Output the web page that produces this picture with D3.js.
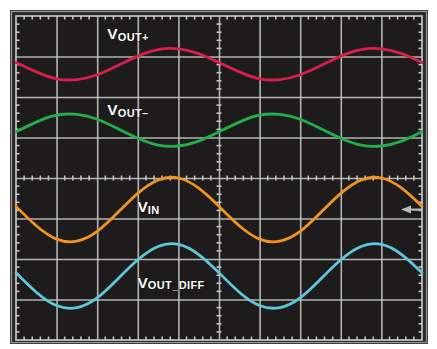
<!DOCTYPE html>
<html>
<head>
<meta charset="utf-8">
<script src="https://cdn.jsdelivr.net/npm/d3@7"></script>
<style>
  html, body { margin: 0; padding: 0; background: #ffffff; }
  svg { display: block; }
  text { font-family: "Liberation Sans", Arial, sans-serif; font-weight: bold; fill: #ffffff; }
</style>
</head>
<body>
<svg id="scope" width="437" height="349"></svg>
<script>
// Horizontal position of each sample, in screen divisions (10 across)
const divX = [0, 0.5, 1, 1.5, 2, 2.5, 3, 3.5, 4, 4.5, 5, 5.5, 6, 6.5, 7, 7.5, 8, 8.5, 9, 9.5, 10];

// Trace levels, in divisions above screen centre (8 divisions tall, -4..4)
const voutPlus = [2.85, 2.62, 2.45, 2.43, 2.55, 2.77, 3.01, 3.17, 3.19, 3.07, 2.85,
                  2.62, 2.45, 2.43, 2.55, 2.77, 3.01, 3.17, 3.19, 3.07, 2.85];
const voutMinus = [1.14, 1.38, 1.55, 1.57, 1.45, 1.22, 0.98, 0.81, 0.79, 0.91, 1.14,
                   1.38, 1.55, 1.57, 1.45, 1.22, 0.98, 0.81, 0.79, 0.91, 1.14];
const vin = [-0.70, -1.18, -1.51, -1.56, -1.32, -0.86, -0.38, -0.05, 0.00, -0.25, -0.70,
             -1.18, -1.51, -1.56, -1.32, -0.86, -0.38, -0.05, 0.00, -0.25, -0.70];
const voutDiff = [-2.34, -2.82, -3.15, -3.20, -2.96, -2.50, -2.02, -1.69, -1.64, -1.89, -2.34,
                  -2.82, -3.15, -3.20, -2.96, -2.50, -2.02, -1.69, -1.64, -1.89, -2.34];

// Trace labels: main letter and subscript
const traceNames = ["V", "V", "V", "V"];
const traceSubs = ["OUT+", "OUT\u2013", "IN", "OUT_DIFF"];
const traceColors = ["#d61f4e", "#22ae4a", "#f39320", "#5ec8da"];
// Label anchor (division coordinates)
const labelDivX = [2.25, 2.25, 2.99, 2.99];
const labelDivY = [3.42, 1.55, -0.84, -2.71];

// Ground-reference marker level for the input channel
const markerLevel = -0.78;

const svg = d3.select("#scope");

const x = d3.scaleLinear().domain([0, 10]).range([16, 422]);
const y = d3.scaleLinear().domain([-4, 4]).range([340, 16]);

// Bezel
svg.append("rect").attr("x", 10.5).attr("y", 10.5).attr("width", 417).attr("height", 333)
  .attr("fill", "#2a2829").attr("stroke", "#3a3839").attr("stroke-width", 1);
svg.append("rect").attr("x", 11.5).attr("y", 11.5).attr("width", 415).attr("height", 331)
  .attr("fill", "none").attr("stroke", "#9a9899").attr("stroke-width", 1.2);

// Screen
svg.append("rect").attr("x", x(0)).attr("y", y(4)).attr("width", x(10) - x(0)).attr("height", y(-4) - y(4))
  .attr("fill", "#1d1b1c");

const grid = svg.append("g").attr("stroke", "#c4c4c4");

// Major graticule drawn with axes (tick lines only)
const gx = grid.append("g").attr("transform", `translate(0,${y(-4)})`)
  .call(d3.axisBottom(x).tickValues(d3.range(1, 10)).tickSize(-(y(-4) - y(4))).tickFormat(""));
const gy = grid.append("g").attr("transform", `translate(${x(0)},0)`)
  .call(d3.axisLeft(y).tickValues(d3.range(-3, 4)).tickSize(-(x(10) - x(0))).tickFormat(""));
[gx, gy].forEach(g => {
  g.select(".domain").remove();
  g.selectAll("line").attr("stroke", "#c4c4c4").attr("stroke-width", 1.6).attr("stroke-opacity", 0.9);
});

// Minor ticks (fifths of a division)
const minorX = d3.range(0, 50).map(i => i / 5).filter(v => v % 1 !== 0);
const minorY = d3.range(-20, 20).map(i => i / 5).filter(v => Math.abs(v % 1) > 1e-9);
const tickW = 1.6;
// edges
grid.selectAll(".tTop").data(minorX).join("line").attr("class", "tTop")
  .attr("x1", d => x(d)).attr("x2", d => x(d)).attr("y1", y(4)).attr("y2", y(4) + 3.5).attr("stroke-width", tickW);
grid.selectAll(".tBot").data(minorX).join("line").attr("class", "tBot")
  .attr("x1", d => x(d)).attr("x2", d => x(d)).attr("y1", y(-4)).attr("y2", y(-4) - 3.5).attr("stroke-width", tickW);
grid.selectAll(".tLeft").data(minorY).join("line").attr("class", "tLeft")
  .attr("y1", d => y(d)).attr("y2", d => y(d)).attr("x1", x(0)).attr("x2", x(0) + 3.5).attr("stroke-width", tickW);
grid.selectAll(".tRight").data(minorY).join("line").attr("class", "tRight")
  .attr("y1", d => y(d)).attr("y2", d => y(d)).attr("x1", x(10)).attr("x2", x(10) - 3.5).attr("stroke-width", tickW);
// centre cross
grid.selectAll(".tCx").data(minorX).join("line").attr("class", "tCx")
  .attr("x1", d => x(d)).attr("x2", d => x(d)).attr("y1", y(0) - 2.5).attr("y2", y(0) + 2.5).attr("stroke-width", tickW);
grid.selectAll(".tCy").data(minorY).join("line").attr("class", "tCy")
  .attr("y1", d => y(d)).attr("y2", d => y(d)).attr("x1", x(5) - 2.5).attr("x2", x(5) + 2.5).attr("stroke-width", tickW);

// Screen border
svg.append("rect").attr("x", x(0)).attr("y", y(4)).attr("width", x(10) - x(0)).attr("height", y(-4) - y(4))
  .attr("fill", "none").attr("stroke", "#d0d0d0").attr("stroke-width", 1.6);

// Traces
const series = [voutPlus, voutMinus, vin, voutDiff];
const line = d3.line().x((d, i) => x(divX[i])).y(d => y(d)).curve(d3.curveNatural);
svg.append("g").selectAll("path").data(series).join("path")
  .attr("d", line)
  .attr("fill", "none")
  .attr("stroke", (d, i) => traceColors[i])
  .attr("stroke-width", 2.8)
  .attr("stroke-linecap", "round");

// Labels
const labels = svg.append("g").selectAll("text").data(traceNames).join("text")
  .attr("x", (d, i) => x(labelDivX[i]))
  .attr("y", (d, i) => y(labelDivY[i]))
  .style("paint-order", "stroke")
  .attr("stroke", "#000").attr("stroke-width", 1.2).attr("stroke-opacity", 0.5);
labels.append("tspan").attr("font-size", 15.5).text(d => d);
labels.append("tspan").attr("font-size", 11).attr("letter-spacing", 0.4).attr("dy", 1.5).text((d, i) => traceSubs[i]);

// Reference marker arrow
const my = y(markerLevel);
svg.append("path")
  .attr("d", `M${x(10) - 21},${my} L${x(10) - 11},${my - 4} L${x(10) - 11},${my - 1.2} L${x(10) - 1},${my - 1.2} L${x(10) - 1},${my + 1.2} L${x(10) - 11},${my + 1.2} L${x(10) - 11},${my + 4} Z`)
  .attr("fill", "#b8b8b8");
</script>
</body>
</html>
